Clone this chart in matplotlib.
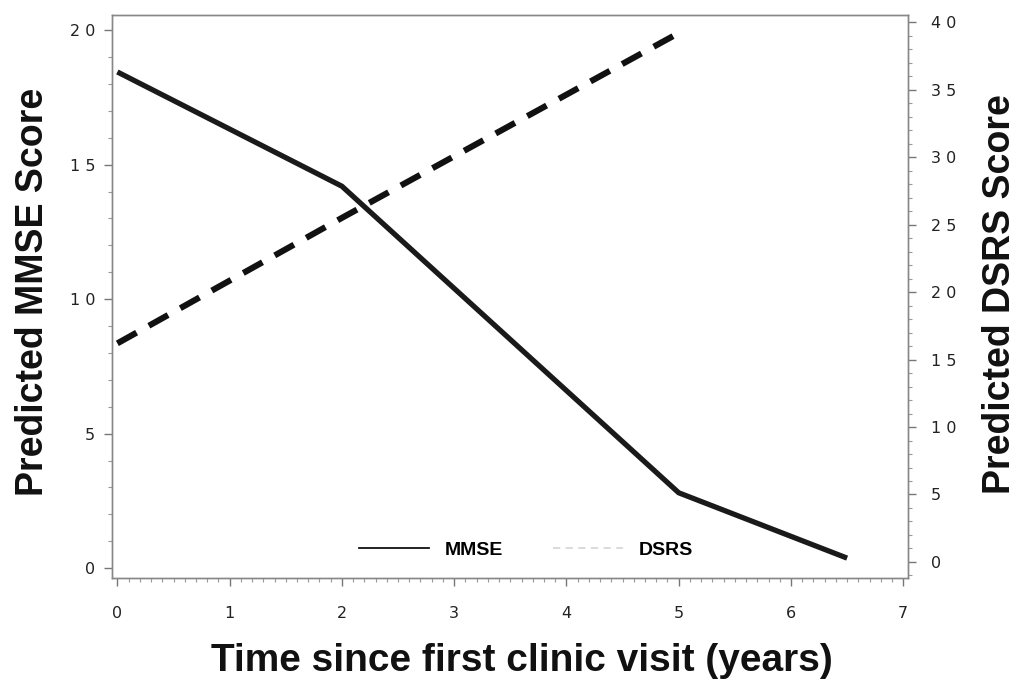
import matplotlib
matplotlib.use('Agg')
import matplotlib.pyplot as plt
from matplotlib.lines import Line2D
from matplotlib.ticker import MultipleLocator

# gözlem zamanları (yıl)
yil_mmse = [0, 2, 5, 6.5]
mmse = [18.45, 14.2, 2.8, 0.37]

yil_dsrs = [0, 2, 5]
dsrs = [16.2, 25.5, 39.2]

sol_etiket = ['0', '5', '1 0', '1 5', '2 0']
sag_etiket = ['0', '5', '1 0', '1 5', '2 0', '2 5', '3 0', '3 5', '4 0']

fig = plt.figure(figsize=(10.16, 6.91), dpi=100)
ax = fig.add_axes([0.110, 0.1635, 0.784, 0.8145])
ax2 = ax.twinx()

ax.plot(yil_mmse, mmse, color='#1a1a1a', lw=3.8, solid_capstyle='butt', zorder=3)
ax2.plot(yil_dsrs, dsrs, color='#111111', lw=4.4, dashes=(3.6, 2.3), zorder=2)

ax.set_xlim(-0.05, 7.045)
ax.set_ylim(-0.37, 20.56)
ax2.set_ylim(-1.19, 40.52)

ax.xaxis.set_minor_locator(MultipleLocator(0.1))
ax.yaxis.set_minor_locator(MultipleLocator(1))
ax2.yaxis.set_minor_locator(MultipleLocator(1))

tick_font = {'family': 'DejaVu Sans', 'size': 11.5, 'color': '#222222'}
for a in (ax, ax2):
    for s in a.spines.values():
        s.set_color('#888888')
        s.set_linewidth(1.0)
    a.tick_params(which='major', length=6, width=1, color='#777777')
    a.tick_params(which='minor', length=3, width=0.8, color='#999999')

ax.set_yticks([0, 5, 10, 15, 20])
ax.set_yticklabels(sol_etiket, **tick_font)
ax2.set_yticks([0, 5, 10, 15, 20, 25, 30, 35, 40])
ax2.set_yticklabels(sag_etiket, **tick_font)
ax.set_xticks(range(8))
ax.set_xticklabels([str(i) for i in range(8)], **tick_font)
ax.tick_params(axis='x', pad=14)
ax.tick_params(axis='y', pad=6)
ax2.tick_params(axis='y', pad=10)

etiket = {'family': 'Liberation Sans', 'weight': 'bold', 'color': '#111111'}
fig.text(0.032, 0.577, 'Predicted MMSE Score', rotation=90, ha='center', va='center',
         size=27, **etiket)
fig.text(0.984, 0.575, 'Predicted DSRS Score', rotation=90, ha='center', va='center',
         size=27, **etiket)
fig.text(0.514, 0.044, 'Time since first clinic visit (years)', ha='center', va='center',
         size=28, **etiket)

handles = [Line2D([], [], color='#111111', lw=1.3),
           Line2D([], [], color='#d8d8d8', lw=1.3, dashes=(4, 3))]
ax.legend(handles, ['MMSE', 'DSRS'], loc='center', bbox_to_anchor=(0.52, 0.05),
          ncol=2, frameon=False, handlelength=3.6, columnspacing=2.6, handletextpad=0.8,
          prop={'family': 'Liberation Sans', 'weight': 'bold', 'size': 14})

fig.savefig('out.png', dpi=100)
